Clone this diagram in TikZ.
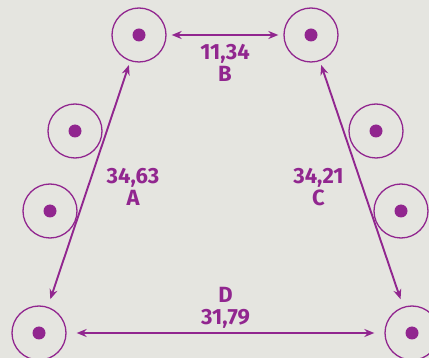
\documentclass[tikz,border=0pt]{standalone}
\usepackage{fontspec}
\setmainfont{Fira Sans}
\usepackage{tikz}
\usetikzlibrary{arrows, arrows.meta, positioning}
\definecolor{plum}{RGB}{145,38,143}
\definecolor{paper}{RGB}{229,229,224}
\tikzstyle{pulley} = [circle, minimum size = 54pt, inner sep = 0pt, draw = plum, line width = 1.3pt]
\tikzstyle{arrow} = [line width = 1.9pt, plum, {Stealth[length=10pt, width=8pt]}-{Stealth[length=10pt, width=8pt]}]
\tikzstyle{dist} = [text = plum, align = center, font = \fontsize{22}{22}\selectfont\bfseries, inner sep = 0pt]

\begin{document}
\begin{tikzpicture}[x = 1pt, y = -1pt]
    \fill [paper] (0,0) rectangle (429,358);
    \useasboundingbox (0,0) rectangle (429,358);
    % pulleys
    \foreach \name/\px/\py in {tl/139/35, tr/311/35, ml1/75/131, ml2/50/211, mr1/376/131, mr2/401/211, bl/39/333, br/412/333} {
        \node (\name) [pulley] at (\px,\py) {};
        \fill [plum] (\name.center) circle (6.5pt);
    }
    % distances
    \draw [arrow, shorten <= 5pt, shorten >= 5pt] (tl) -- node (labB) [dist, below = 8pt] {11,34\\B} (tr);
    \draw [arrow, shorten <= 4pt, shorten >= 8pt] (tl) -- node (labA) [dist, midway, xshift = 44pt, yshift = -3pt] {34,63\\A} (bl);
    \draw [arrow, shorten <= 4pt, shorten >= 8pt] (tr) -- node (labC) [dist, midway, xshift = -43pt, yshift = -3pt] {34,21\\C} (br);
    \draw [arrow, shorten <= 10pt, shorten >= 10pt] (bl) -- node (labD) [dist, above = 4pt] {D\\31,79} (br);
\end{tikzpicture}
\end{document}
